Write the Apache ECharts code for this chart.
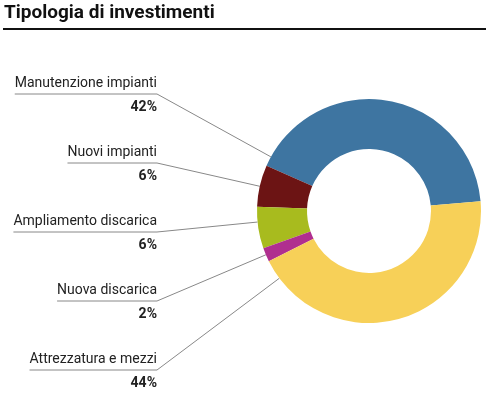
<!doctype html>
<html>
<head>
<meta charset="UTF-8">
<title>Tipologia di investimenti</title>
<script src="https://cdn.jsdelivr.net/npm/echarts@6/dist/echarts.min.js"></script>
<style>
  html, body { margin: 0; padding: 0; background: #fff; }
  #main { width: 487px; height: 397px; }
</style>
</head>
<body>
<div id="main"></div>
<script>
// dati
var categorie = ['Manutenzione impianti', 'Nuovi impianti', 'Ampliamento discarica', 'Nuova discarica', 'Attrezzatura e mezzi'];
var valori = [42, 6, 6, 2, 44];
var colori = ['#3e75a1', '#6c1414', '#a8bb1e', '#b02f8f', '#f7d058'];

// geometria della ciambella
var cx = 369, cy = 211, rIn = 62, rOut = 112;
var labelX = 157, firstLineY = 94, stepY = 69;

var myChart = echarts.init(document.getElementById('main'));

var option = {
    animation: false,
    title: {
        text: 'Tipologia di investimenti',
        left: 4,
        top: 4,
        padding: 0,
        textStyle: { fontFamily: 'Roboto', fontSize: 19, fontWeight: 'bold', color: '#111' }
    },
    graphic: [{
        type: 'rect',
        shape: { x: 3, y: 28, width: 483, height: 2 },
        style: { fill: '#111' }
    }],
    series: [{
        type: 'pie',
        center: [cx, cy],
        radius: [rIn, rOut],
        startAngle: 5,
        clockwise: false,
        data: categorie.map(function (n, i) {
            return { name: n, value: valori[i], itemStyle: { color: colori[i] } };
        }),
        label: {
            show: true,
            position: 'outside',
            overflow: 'none',
            formatter: function (p) {
                return '{n|' + p.name + '}\n{p|' + p.value + '%}';
            },
            rich: {
                n: { fontFamily: 'Roboto', fontSize: 14, color: '#222', lineHeight: 26, align: 'right' },
                p: { fontFamily: 'Roboto', fontSize: 14, fontWeight: 'bold', color: '#222', lineHeight: 22, align: 'right' }
            }
        },
        labelLine: { show: true, lineStyle: { color: '#888', width: 1 } },
        labelLayout: function (params) {
            var lineY = firstLineY + stepY * params.dataIndex;
            var dx = labelX - cx, dy = lineY - cy;
            var d = Math.sqrt(dx * dx + dy * dy);
            var edge = [cx + dx / d * rOut, cy + dy / d * rOut];
            return {
                x: labelX,
                y: lineY - 24,
                align: 'right',
                verticalAlign: 'top',
                labelLinePoints: [edge, [labelX, lineY], [labelX - params.labelRect.width, lineY]]
            };
        }
    }]
};
myChart.setOption(option);
</script>
</body>
</html>
